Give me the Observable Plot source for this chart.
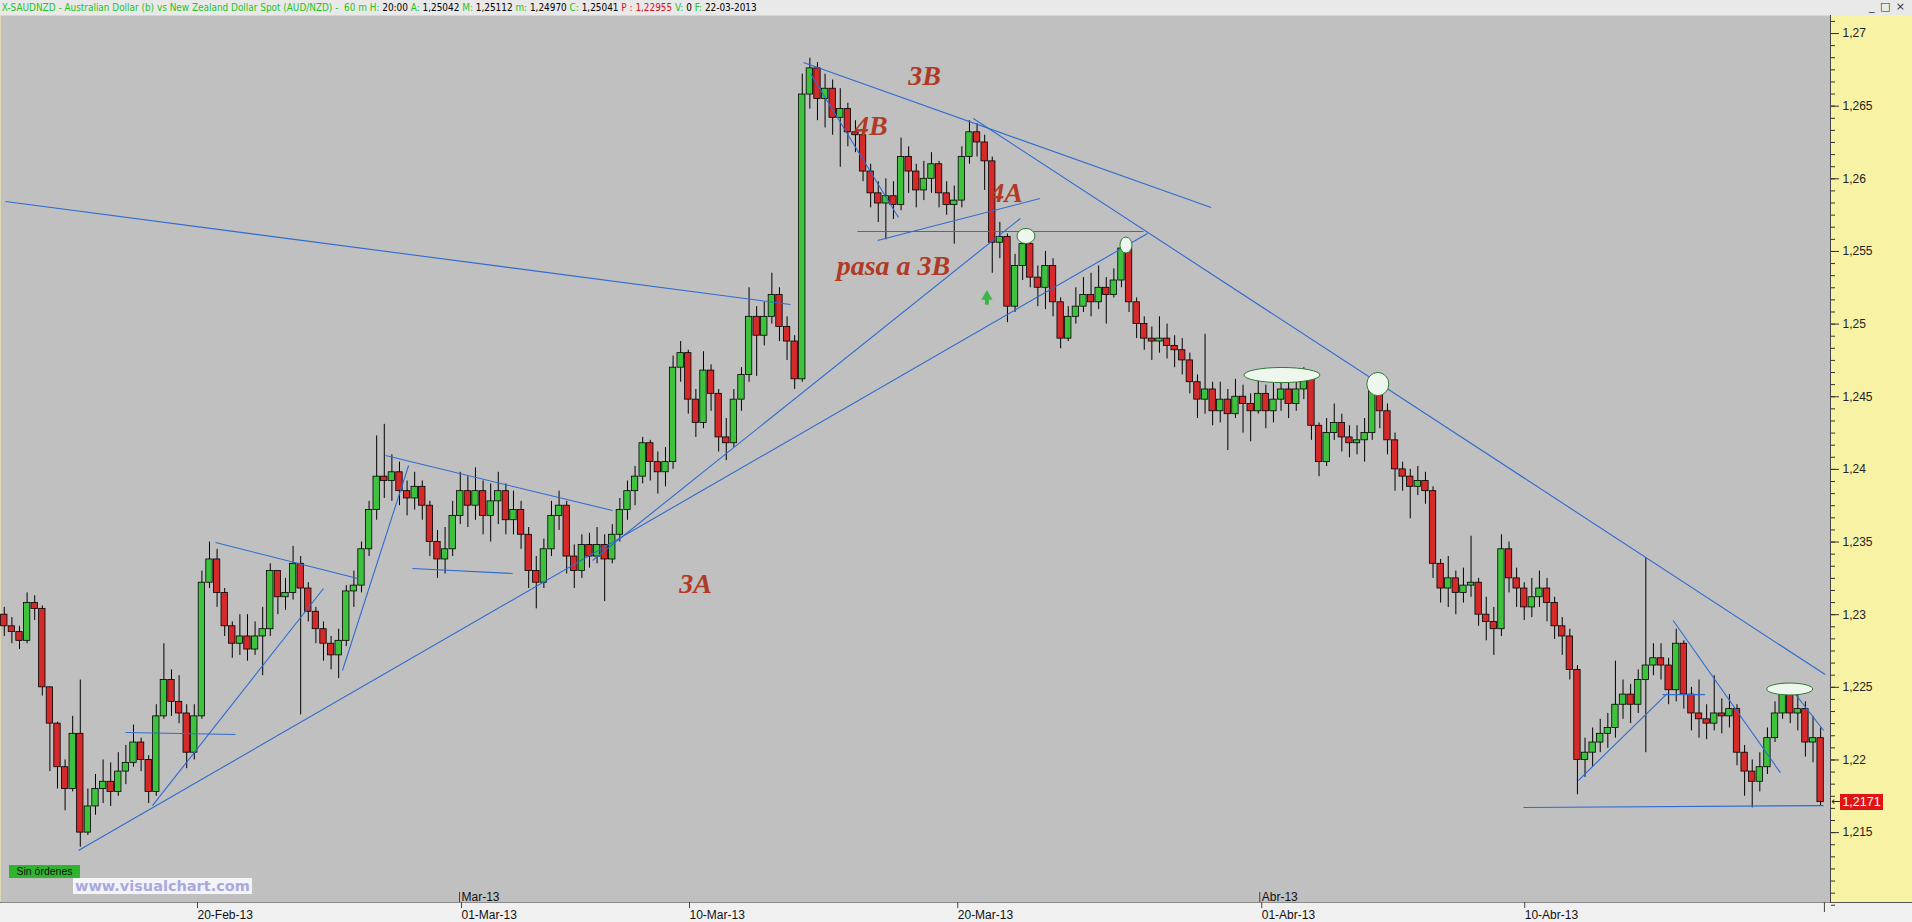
<!DOCTYPE html>
<html><head><meta charset="utf-8">
<script src="https://cdn.jsdelivr.net/npm/d3@7"></script>
<script src="https://cdn.jsdelivr.net/npm/@observablehq/plot@0.6"></script>
<style>
body{margin:0;background:#f0f0f0;overflow:hidden}
#wrap{position:relative;width:1912px;height:922px;overflow:hidden}
#hdr{position:absolute;left:0;top:0;width:1912px;height:15px;background:#e9e9e9;font-size:11px;font-family:"Liberation Sans Narrow","DejaVu Sans Condensed","Liberation Sans",sans-serif;white-space:nowrap;line-height:15px}
#hdrtxt{display:inline-block;transform:scaleX(0.9);transform-origin:0 0;padding-left:2px}
#hdr .g{color:#22c422}#hdr .k{color:#000}#hdr .r{color:#e01010}
#btns{position:absolute;right:6px;top:0;font:11px "DejaVu Sans",sans-serif;color:#333;letter-spacing:1px}
#chart{position:absolute;left:0;top:15px}
#sin{position:absolute;left:9px;top:865px;width:71px;height:13px;background:#30b430;color:#111;font:10.5px "Liberation Sans",sans-serif;line-height:13px;text-align:center}
#vc{position:absolute;left:73px;top:878px;height:16px;padding:0 2px;background:#f3f3fa;color:#a9a9dc;font:bold 14.5px "DejaVu Sans",sans-serif;line-height:16px}
#tag{position:absolute;width:43px;height:16px;background:#e01414;color:#fff;font:12.5px "Liberation Sans",sans-serif;line-height:16px;text-align:center}
#tagarrow{position:absolute;font:11px "DejaVu Sans",sans-serif;color:#222;line-height:12px}
</style></head><body>
<div id="wrap">
<div id="hdr"><span id="hdrtxt"><span class="g">X-SAUDNZD - Australian Dollar (b) vs New Zealand Dollar Spot (AUD/NZD) - &nbsp;60 m H:</span> <span class="k">20:00</span> <span class="g">A:</span> <span class="k">1,25042</span> <span class="g">M:</span> <span class="k">1,25112</span> <span class="g">m:</span> <span class="k">1,24970</span> <span class="g">C:</span> <span class="k">1,25041</span> <span class="r">P : 1,22955</span> <span class="g">V:</span> <span class="k">0</span> <span class="g">F:</span> <span class="k">22-03-2013</span></span><span id="btns">_ □ ×</span></div>
<div id="chart"></div>
<div id="sin">Sin órdenes</div>
<div id="vc">www.visualchart.com</div>
<div id="tagarrow">←</div>
<div id="tag"></div>
</div>
<script>
// ---- candle data (AUD/NZD, one candle per ~5 hourly bars) ----
const firstOpen = 1.2300;
const closes = [1.2292,1.2288,1.2282,1.2308,1.2304,1.2250,1.2225,1.2195,1.2180,1.2218,
1.2150,1.2168,1.2180,1.2185,1.2178,1.2192,1.2198,1.2212,1.2200,1.2178,
1.2230,1.2255,1.2240,1.2232,1.2205,1.2230,1.2322,1.2338,1.2315,1.2292,
1.2280,1.2285,1.2276,1.2285,1.2290,1.2330,1.2312,1.2315,1.2335,1.2318,
1.2302,1.2290,1.2280,1.2272,1.2282,1.2316,1.2320,1.2345,1.2372,1.2395,
1.2392,1.2398,1.2385,1.2380,1.2388,1.2375,1.2350,1.2338,1.2345,1.2368,
1.2385,1.2375,1.2385,1.2368,1.2378,1.2385,1.2365,1.2372,1.2355,1.2330,
1.2322,1.2345,1.2368,1.2375,1.2340,1.2330,1.2348,1.2340,1.2348,1.2338,
1.2355,1.2372,1.2385,1.2395,1.2418,1.2405,1.2398,1.2405,1.2470,1.2480,
1.2448,1.2432,1.2468,1.2452,1.2422,1.2418,1.2448,1.2465,1.2505,1.2492,
1.2505,1.2520,1.2498,1.2488,1.2462,1.2658,1.2676,1.2655,1.2662,1.2642,
1.2648,1.2632,1.2630,1.2605,1.2590,1.2583,1.2588,1.2582,1.2615,1.2605,
1.2592,1.2600,1.2610,1.2590,1.2582,1.2585,1.2615,1.2632,1.2625,1.2612,
1.2556,1.2560,1.2512,1.2540,1.2555,1.2532,1.2525,1.2540,1.2515,1.2490,
1.2505,1.2512,1.2520,1.2515,1.2525,1.2520,1.2530,1.2552,1.2515,1.2500,
1.2490,1.2488,1.2490,1.2485,1.2482,1.2475,1.2460,1.2448,1.2455,1.2440,
1.2448,1.2438,1.2450,1.2445,1.2440,1.2452,1.2440,1.2448,1.2455,1.2445,
1.2455,1.2462,1.2430,1.2405,1.2425,1.2432,1.2422,1.2418,1.2420,1.2425,
1.2458,1.2440,1.2420,1.2400,1.2395,1.2388,1.2392,1.2385,1.2335,1.2318,
1.2325,1.2315,1.2320,1.2322,1.2300,1.2295,1.2290,1.2345,1.2325,1.2318,
1.2305,1.2312,1.2318,1.2308,1.2292,1.2285,1.2262,1.2200,1.2205,1.2212,
1.2218,1.2222,1.2238,1.2245,1.2238,1.2255,1.2265,1.2270,1.2265,1.2248,
1.2280,1.2245,1.2232,1.2228,1.2225,1.2232,1.2230,1.2235,1.2205,1.2192,
1.2185,1.2195,1.2215,1.2232,1.2248,1.2232,1.2235,1.2212,1.2215,1.2171];
const highs = [1.2305,1.2298,1.2292,1.2315,1.2313,1.2306,1.2240,1.2226,1.2200,1.2230,
1.2255,1.2180,1.2190,1.2200,1.2198,1.2205,1.2210,1.2224,1.2215,1.2203,
1.2238,1.2280,1.2262,1.2258,1.2238,1.2238,1.2330,1.2350,1.2345,1.2318,
1.2295,1.2300,1.2300,1.2295,1.2305,1.2335,1.2330,1.2325,1.2347,1.2340,
1.2322,1.2305,1.2295,1.2285,1.2290,1.2320,1.2330,1.2350,1.2378,1.2423,
1.2431,1.2410,1.2405,1.2392,1.2398,1.2392,1.2378,1.2358,1.2360,1.2378,
1.2398,1.2395,1.2401,1.2392,1.2390,1.2398,1.2390,1.2385,1.2378,1.2360,
1.2340,1.2352,1.2378,1.2385,1.2378,1.2348,1.2355,1.2356,1.2360,1.2355,
1.2362,1.2380,1.2392,1.2402,1.2422,1.2420,1.2412,1.2415,1.2478,1.2488,
1.2482,1.2455,1.2481,1.2472,1.2455,1.2435,1.2455,1.2470,1.2525,1.2512,
1.2515,1.2535,1.2525,1.2505,1.2492,1.2672,1.2683,1.2680,1.2672,1.2668,
1.2662,1.2652,1.2640,1.2632,1.2610,1.2598,1.2600,1.2598,1.2628,1.2622,
1.2610,1.2612,1.2618,1.2612,1.2598,1.2595,1.2622,1.2640,1.2638,1.2630,
1.2615,1.2570,1.2562,1.2548,1.2563,1.2558,1.2540,1.2550,1.2545,1.2518,
1.2512,1.2525,1.2532,1.2535,1.2540,1.2532,1.2538,1.2558,1.2555,1.2518,
1.2505,1.2498,1.2505,1.2500,1.2492,1.2490,1.2480,1.2465,1.2493,1.2460,
1.2460,1.2455,1.2462,1.2458,1.2452,1.2465,1.2458,1.2460,1.2466,1.2460,
1.2465,1.2470,1.2465,1.2432,1.2435,1.2445,1.2438,1.2430,1.2430,1.2435,
1.2464,1.2460,1.2445,1.2425,1.2405,1.2400,1.2402,1.2398,1.2388,1.2338,
1.2340,1.2330,1.2332,1.2354,1.2325,1.2312,1.2305,1.2355,1.2350,1.2332,
1.2322,1.2325,1.2330,1.2325,1.2312,1.2298,1.2290,1.2265,1.2215,1.2222,
1.2228,1.2232,1.2268,1.2255,1.2252,1.2262,1.2339,1.2280,1.2280,1.2270,
1.2290,1.2282,1.2250,1.2255,1.2238,1.2258,1.2242,1.2245,1.2238,1.2210,
1.2200,1.2205,1.2222,1.2240,1.2251,1.2250,1.2245,1.2240,1.2230,1.2222];
const lows = [1.2285,1.2280,1.2276,1.2280,1.2296,1.2244,1.2192,1.2180,1.2165,1.2178,
1.2140,1.2148,1.2162,1.2170,1.2168,1.2175,1.2183,1.2195,1.2192,1.2170,
1.2175,1.2228,1.2230,1.2225,1.2194,1.2200,1.2228,1.2318,1.2305,1.2285,
1.2270,1.2272,1.2268,1.2272,1.2258,1.2285,1.2300,1.2303,1.2310,1.2231,
1.2295,1.2280,1.2268,1.2262,1.2256,1.2278,1.2305,1.2315,1.2340,1.2365,
1.2380,1.2378,1.2375,1.2368,1.2372,1.2365,1.2340,1.2325,1.2328,1.2340,
1.2362,1.2360,1.2365,1.2355,1.2350,1.2362,1.2355,1.2355,1.2345,1.2318,
1.2304,1.2318,1.2340,1.2358,1.2328,1.2318,1.2325,1.2332,1.2335,1.2309,
1.2335,1.2350,1.2365,1.2375,1.2390,1.2392,1.2383,1.2388,1.2400,1.2460,
1.2438,1.2422,1.2428,1.2440,1.2412,1.2406,1.2415,1.2440,1.2460,1.2464,
1.2485,1.2500,1.2488,1.2475,1.2455,1.2460,1.2648,1.2640,1.2635,1.2630,
1.2608,1.2622,1.2618,1.2598,1.2580,1.2570,1.2558,1.2572,1.2578,1.2590,
1.2580,1.2585,1.2590,1.2580,1.2575,1.2555,1.2580,1.2610,1.2615,1.2592,
1.2535,1.2545,1.2501,1.2508,1.2530,1.2525,1.2512,1.2510,1.2505,1.2483,
1.2488,1.2500,1.2508,1.2505,1.2510,1.2500,1.2518,1.2525,1.2508,1.2490,
1.2482,1.2475,1.2480,1.2476,1.2470,1.2465,1.2452,1.2435,1.2438,1.2430,
1.2432,1.2413,1.2435,1.2425,1.2419,1.2438,1.2428,1.2432,1.2440,1.2435,
1.2440,1.2448,1.2420,1.2395,1.2402,1.2420,1.2412,1.2408,1.2410,1.2405,
1.2420,1.2428,1.2410,1.2385,1.2385,1.2366,1.2382,1.2376,1.2325,1.2308,
1.2305,1.2300,1.2308,1.2312,1.2292,1.2282,1.2272,1.2285,1.2315,1.2305,
1.2296,1.2298,1.2305,1.2295,1.2283,1.2272,1.2255,1.2176,1.2188,1.2195,
1.2205,1.2208,1.2215,1.2228,1.2225,1.2232,1.2205,1.2258,1.2255,1.2238,
1.2240,1.2235,1.2220,1.2215,1.2214,1.2220,1.2218,1.2222,1.2196,1.2175,
1.2167,1.2178,1.2190,1.2212,1.2228,1.2225,1.2220,1.2202,1.2198,1.2168];

// ---- trend lines drawn on the chart (bar index, price) ----
const lineX1 = [0.16,9.76,19.5,44.5,15.95,27.8,50.16,53.7,77.4,105.16,127.5,106.08,112.26,114.9,199.9,207.1,218.2,219.6,234.6];
const lineY1 = [1.25844,1.21377,1.21686,1.22616,1.22189,1.23497,1.24095,1.23318,1.23373,1.26800,1.26415,1.26725,1.25637,1.25575,1.21673,1.21858,1.22450,1.22960,1.22526];
const lineX2 = [103.45,150.42,42.0,53.2,30.42,46.5,80.03,66.9,133.7,158.8,239.6,117.66,149.9,136.3,239.4,218.8,223.8,233.7,239.4];
const lineY2 = [1.25135,1.25623,1.23180,1.24027,1.22175,1.23249,1.23717,1.23283,1.25727,1.25802,1.22588,1.25734,1.25637,1.25864,1.21686,1.22457,1.22450,1.21913,1.22203];

// ---- highlighted zones (ellipses): centre and half-extent ----
const ellX = [134.5,147.66,168.18,180.8,235.0];
const ellY = [1.25603,1.25541,1.24646,1.24584,1.22485];
const ellHalfW = [1.18,0.79,5.0,1.45,3.03];
const ellHalfH = [0.00052,0.00055,0.00052,0.00080,0.00041];

// ---- annotations ----
const noteText = ["3B","4B","4A","pasa a 3B","3A"];
const noteX = [121.1,114.1,131.9,117.0,90.95];
const noteY = [1.26704,1.2636,1.25899,1.25403,1.23214];
const arrowX = [129.3];
const arrowBase = [1.2513];
const arrowHead = [1.2519];

// ---- axes ----
const yTicks = [1.27,1.265,1.26,1.255,1.25,1.245,1.24,1.235,1.23,1.225,1.22,1.215];
const yTickLabels = ["1,27","1,265","1,26","1,255","1,25","1,245","1,24","1,235","1,23","1,225","1,22","1,215"];
const xTickPos = [25.16,59.9,89.9,125.2,165.2,199.8];
const xTickLabels = ["20-Feb-13","01-Mar-13","10-Mar-13","20-Mar-13","01-Abr-13","10-Abr-13"];
const monthPos = [59.9,165.2];
const monthLabels = ["Mar-13","Abr-13"];
const endTick = [239.5];
const lastPrice = 1.2171;
const lastPriceLabel = "1,2171";

const candles = closes.map((c, i) => {
  const o = i ? closes[i - 1] : firstOpen;
  return {i, o, c, h: Math.max(highs[i], o, c), l: Math.min(lows[i], o, c)};
});
const lines = lineX1.map((x, k) => ({x1: x, y1: lineY1[k], x2: lineX2[k], y2: lineY2[k]}));
const notes = noteText.map((t, k) => ({t, x: noteX[k], y: noteY[k]}));
const minorTicks = d3.range(0, 74).map(k => 1.21 + k * 0.005 / 6).filter(v => v < 1.2712);

const GREEN = "#3ec23e", RED = "#d42a2a", BLUE = "#2f6bd0";
const plot = Plot.plot({
  width: 1912, height: 907,
  marginTop: 0, marginBottom: 20, marginLeft: 0, marginRight: 82,
  x: {domain: [-0.5, 240.3], label: null},
  y: {domain: [1.21019, 1.27124], label: null},
  style: {background: "linear-gradient(to bottom,#f8f2a4 0px,#f8f2a4 887px,#555 887px,#555 888px,#f0f0f0 888px)", fontFamily: "Liberation Sans, sans-serif", overflow: "visible"},
  marks: [
    Plot.frame({fill: "#c0c0c0", stroke: null}),
    Plot.ruleX(candles, {x: "i", y1: "l", y2: "h", stroke: "#000", strokeWidth: 1}),
    Plot.rect(candles, {x1: d => d.i - 0.42, x2: d => d.i + 0.42, y1: "o", y2: "c", fill: d => d.c >= d.o ? GREEN : RED, stroke: "#000", strokeWidth: 0.8}),
    Plot.link(lines, {x1: "x1", y1: "y1", x2: "x2", y2: "y2", stroke: BLUE, strokeWidth: 1.1}),
    Plot.text(notes, {x: "x", y: "y", text: "t", fontFamily: "Liberation Serif, DejaVu Serif, serif", fontStyle: "italic", fontWeight: "bold", fontSize: 28, fill: "#b03a26"}),
    Plot.ruleX(arrowX, {x: d => d, y1: (d, k) => arrowBase[k], y2: (d, k) => arrowHead[k], stroke: "#3cb44a", strokeWidth: 4}),
    Plot.dot(arrowX, {x: d => d, y: (d, k) => arrowHead[k], symbol: "triangle", r: 4.2, fill: "#3cb44a", stroke: null}),
    Plot.frame({anchor: "right", stroke: "#444"}),
    Plot.axisY(minorTicks, {anchor: "right", tickSize: 4, tickFormat: () => "", stroke: "#333"}),
    Plot.axisY(yTicks, {anchor: "right", tickSize: 8, tickPadding: 4, tickFormat: d => yTickLabels[yTicks.indexOf(d)], fontSize: 12, fill: "#222", stroke: "#333"}),
    Plot.axisX(xTickPos, {anchor: "bottom", tickSize: 6, tickPadding: 2, textAnchor: "start", dx: 2, tickFormat: d => xTickLabels[xTickPos.indexOf(d)], fontSize: 12, fill: "#111", stroke: "#444"}),
    Plot.axisX(monthPos, {anchor: "bottom", tickSize: -10, tickFormat: () => "", stroke: "#444"}),
    Plot.text(monthPos, {x: d => d, text: (d, k) => monthLabels[k], frameAnchor: "bottom", lineAnchor: "bottom", dy: -2, dx: 2, textAnchor: "start", fontSize: 12, fill: "#111"}),
    Plot.axisX(endTick, {anchor: "bottom", tickSize: 10, tickFormat: () => "", stroke: "#444"})
  ]
});
document.getElementById("chart").appendChild(plot);

// ellipses + last-price tag, placed through Plot's own scales
const sx = plot.scale("x"), sy = plot.scale("y");
const svg = d3.select(plot);
const g = svg.append("g");
ellX.forEach((x, k) => {
  const cx = sx.apply(x), cy = sy.apply(ellY[k]);
  g.append("ellipse").attr("cx", cx).attr("cy", cy)
    .attr("rx", Math.abs(sx.apply(x + ellHalfW[k]) - cx))
    .attr("ry", Math.abs(sy.apply(ellY[k] + ellHalfH[k]) - cy))
    .attr("fill", "#eef7ee").attr("stroke", "#2e7a32").attr("stroke-width", 1);
});
const right = sx.range[1];
const py = sy.apply(lastPrice) + 15;
const tag = document.getElementById("tag");
tag.textContent = lastPriceLabel;
tag.style.left = (right + 10) + "px";
tag.style.top = (py - 8) + "px";
const ta = document.getElementById("tagarrow");
ta.style.left = (right + 1) + "px";
ta.style.top = (py - 6) + "px";
</script>
</body></html>
